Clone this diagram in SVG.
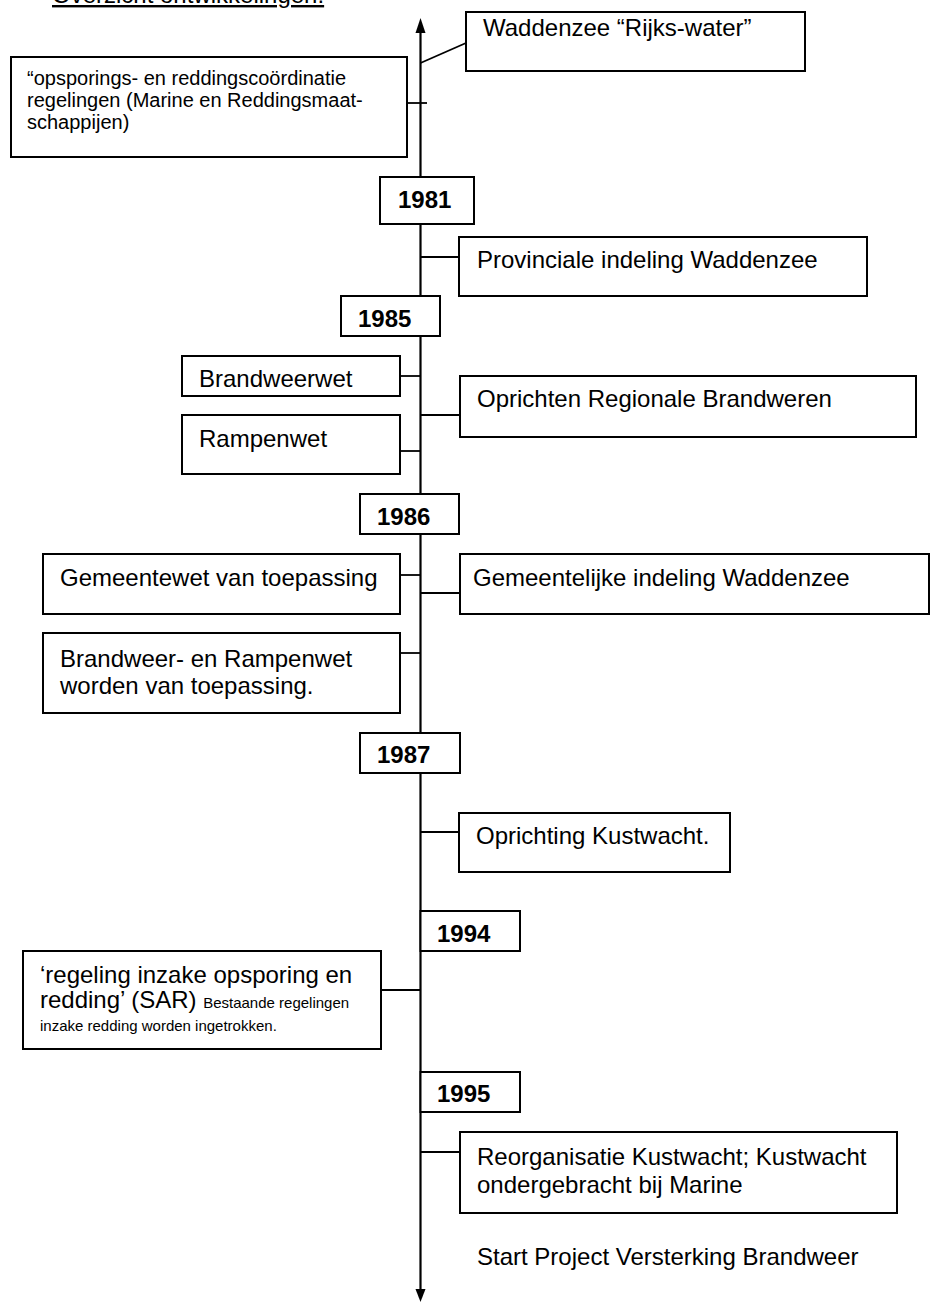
<svg xmlns="http://www.w3.org/2000/svg" width="930" height="1302" viewBox="0 0 930 1302">
<style>
text{font-family:"Liberation Sans",Arial,sans-serif;fill:#000}
.t{font-size:24px}
.s{font-size:20px}
.xs{font-size:15px}
.y{font-size:24px;font-weight:bold}
.box{fill:#fff;stroke:#000;stroke-width:2}
.ln{stroke:#000;stroke-width:1.8;fill:none}
.ax{stroke:#000;stroke-width:2.2;fill:none}
</style>
<rect width="930" height="1302" fill="#fff"/>
<text class="t" x="52" y="3" text-decoration="underline">Overzicht ontwikkelingen:</text>
<g id="connectors">
<line class="ax" x1="420.5" y1="30" x2="420.5" y2="1290"/>
<polygon points="420.5,18 415.5,33 425.5,33" fill="#000"/>
<polygon points="420.5,1302 415.5,1289 425.5,1289" fill="#000"/>
<line class="ln" x1="420.5" y1="63" x2="466" y2="43"/>
<line class="ln" x1="407" y1="103" x2="427" y2="103"/>
<line class="ln" x1="420.5" y1="257" x2="459" y2="257"/>
<line class="ln" x1="400" y1="376" x2="420.5" y2="376"/>
<line class="ln" x1="420.5" y1="415" x2="460" y2="415"/>
<line class="ln" x1="400" y1="451" x2="420.5" y2="451"/>
<line class="ln" x1="400" y1="575" x2="420.5" y2="575"/>
<line class="ln" x1="420.5" y1="593" x2="460" y2="593"/>
<line class="ln" x1="400" y1="653" x2="420.5" y2="653"/>
<line class="ln" x1="420.5" y1="832" x2="459" y2="832"/>
<line class="ln" x1="381" y1="990" x2="420.5" y2="990"/>
<line class="ln" x1="420.5" y1="1152" x2="460" y2="1152"/>
</g>
<g id="n-waddenzee"><rect class="box" x="466" y="12" width="339" height="59"/><text class="t" x="483" y="36">Waddenzee “Rijks-water”</text></g>
<g id="n-opsporing"><rect class="box" x="11" y="57" width="396" height="100"/><text class="s" x="27" y="85">“opsporings- en reddingscoördinatie</text><text class="s" x="27" y="107">regelingen (Marine en Reddingsmaat-</text><text class="s" x="27" y="129">schappijen)</text></g>
<g id="y1981"><rect class="box" x="380" y="177" width="94" height="47"/><text class="y" x="398" y="208">1981</text></g>
<g id="n-provinciale"><rect class="box" x="459" y="237" width="408" height="59"/><text class="t" x="477" y="268">Provinciale indeling Waddenzee</text></g>
<g id="y1985"><rect class="box" x="341" y="296" width="99" height="40"/><text class="y" x="358" y="327">1985</text></g>
<g id="n-brandweerwet"><rect class="box" x="182" y="356" width="218" height="40"/><text class="t" x="199" y="387">Brandweerwet</text></g>
<g id="n-oprichten"><rect class="box" x="460" y="376" width="456" height="61"/><text class="t" x="477" y="407">Oprichten Regionale Brandweren</text></g>
<g id="n-rampenwet"><rect class="box" x="182" y="415" width="218" height="59"/><text class="t" x="199" y="447">Rampenwet</text></g>
<g id="y1986"><rect class="box" x="360" y="494" width="99" height="40"/><text class="y" x="377" y="525">1986</text></g>
<g id="n-gemeentewet"><rect class="box" x="43" y="554" width="357" height="60"/><text class="t" x="60" y="586">Gemeentewet van toepassing</text></g>
<g id="n-gemeentelijke"><rect class="box" x="460" y="554" width="469" height="60"/><text class="t" x="473" y="586">Gemeentelijke indeling Waddenzee</text></g>
<g id="n-brandweer-rampenwet"><rect class="box" x="43" y="633" width="357" height="80"/><text class="t" x="60" y="667">Brandweer- en Rampenwet</text><text class="t" x="60" y="694">worden van toepassing.</text></g>
<g id="y1987"><rect class="box" x="360" y="733" width="100" height="40"/><text class="y" x="377" y="763">1987</text></g>
<g id="n-kustwacht"><rect class="box" x="459" y="813" width="271" height="59"/><text class="t" x="476" y="844">Oprichting Kustwacht.</text></g>
<g id="y1994"><rect class="box" x="420.5" y="911" width="99.5" height="40"/><text class="y" x="437" y="942">1994</text></g>
<g id="n-sar"><rect class="box" x="23" y="951" width="358" height="98"/><text class="t" x="40" y="983">‘regeling inzake opsporing en</text><text x="40" y="1008"><tspan class="t">redding’ (SAR) </tspan><tspan class="xs">Bestaande regelingen</tspan></text><text class="xs" x="40" y="1031">inzake redding worden ingetrokken.</text></g>
<g id="y1995"><rect class="box" x="420.5" y="1072" width="99.5" height="40"/><text class="y" x="437" y="1102">1995</text></g>
<g id="n-reorganisatie"><rect class="box" x="460" y="1132" width="437" height="81"/><text class="t" x="477" y="1165">Reorganisatie Kustwacht; Kustwacht</text><text class="t" x="477" y="1193">ondergebracht bij Marine</text></g>
<g id="n-start"><text class="t" x="477" y="1265">Start Project Versterking Brandweer</text></g>
</svg>
